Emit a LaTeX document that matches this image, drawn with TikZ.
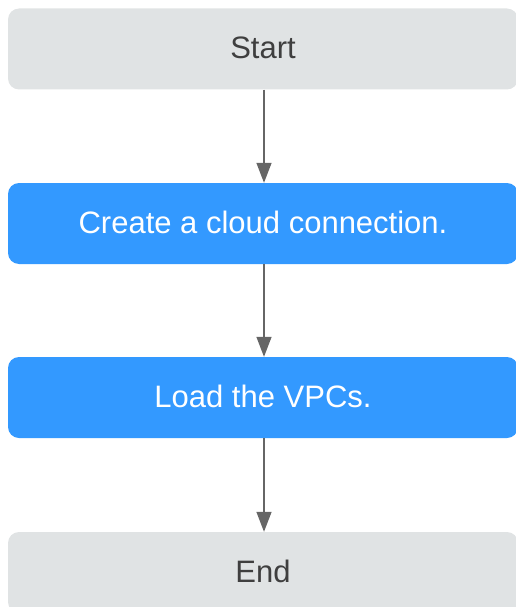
\documentclass[tikz,border=0pt]{standalone}
\usepackage{fontspec}
\setmainfont{Liberation Sans}
\usetikzlibrary{arrows.meta}
\definecolor{termfill}{HTML}{E0E3E4}
\definecolor{stepfill}{HTML}{3399FF}
\definecolor{termtext}{HTML}{3F3F3F}
\definecolor{flowline}{HTML}{666666}
\begin{document}
\begin{tikzpicture}[x=1pt,y=1pt,
  box/.style={rounded corners=11pt, minimum width=510pt, minimum height=81pt,
    inner sep=0pt, text depth=2pt, font=\fontsize{31}{36}\selectfont},
  term/.style={box, fill=termfill, text=termtext},
  stepbox/.style={box, fill=stepfill, text=white},
  flow/.style={draw=flowline, line width=1.4pt, -{Triangle[length=20pt,width=15pt]}}]
\useasboundingbox (0,0) rectangle (515,-607);
\node[term]    (start) at (263,-49)    {Start};
\node[stepbox] (cc)    at (263,-223.5) {Create a cloud connection.};
\node[stepbox] (load)  at (263,-397.5) {Load the VPCs.};
\node[term]    (end)   at (263,-572.5) {End};
\draw[flow] ([xshift=1pt]start.south) -- ([xshift=1pt]cc.north);
\draw[flow] ([xshift=1pt]cc.south) -- ([xshift=1pt]load.north);
\draw[flow] ([xshift=1pt]load.south) -- ([xshift=1pt]end.north);
\end{tikzpicture}
\end{document}
